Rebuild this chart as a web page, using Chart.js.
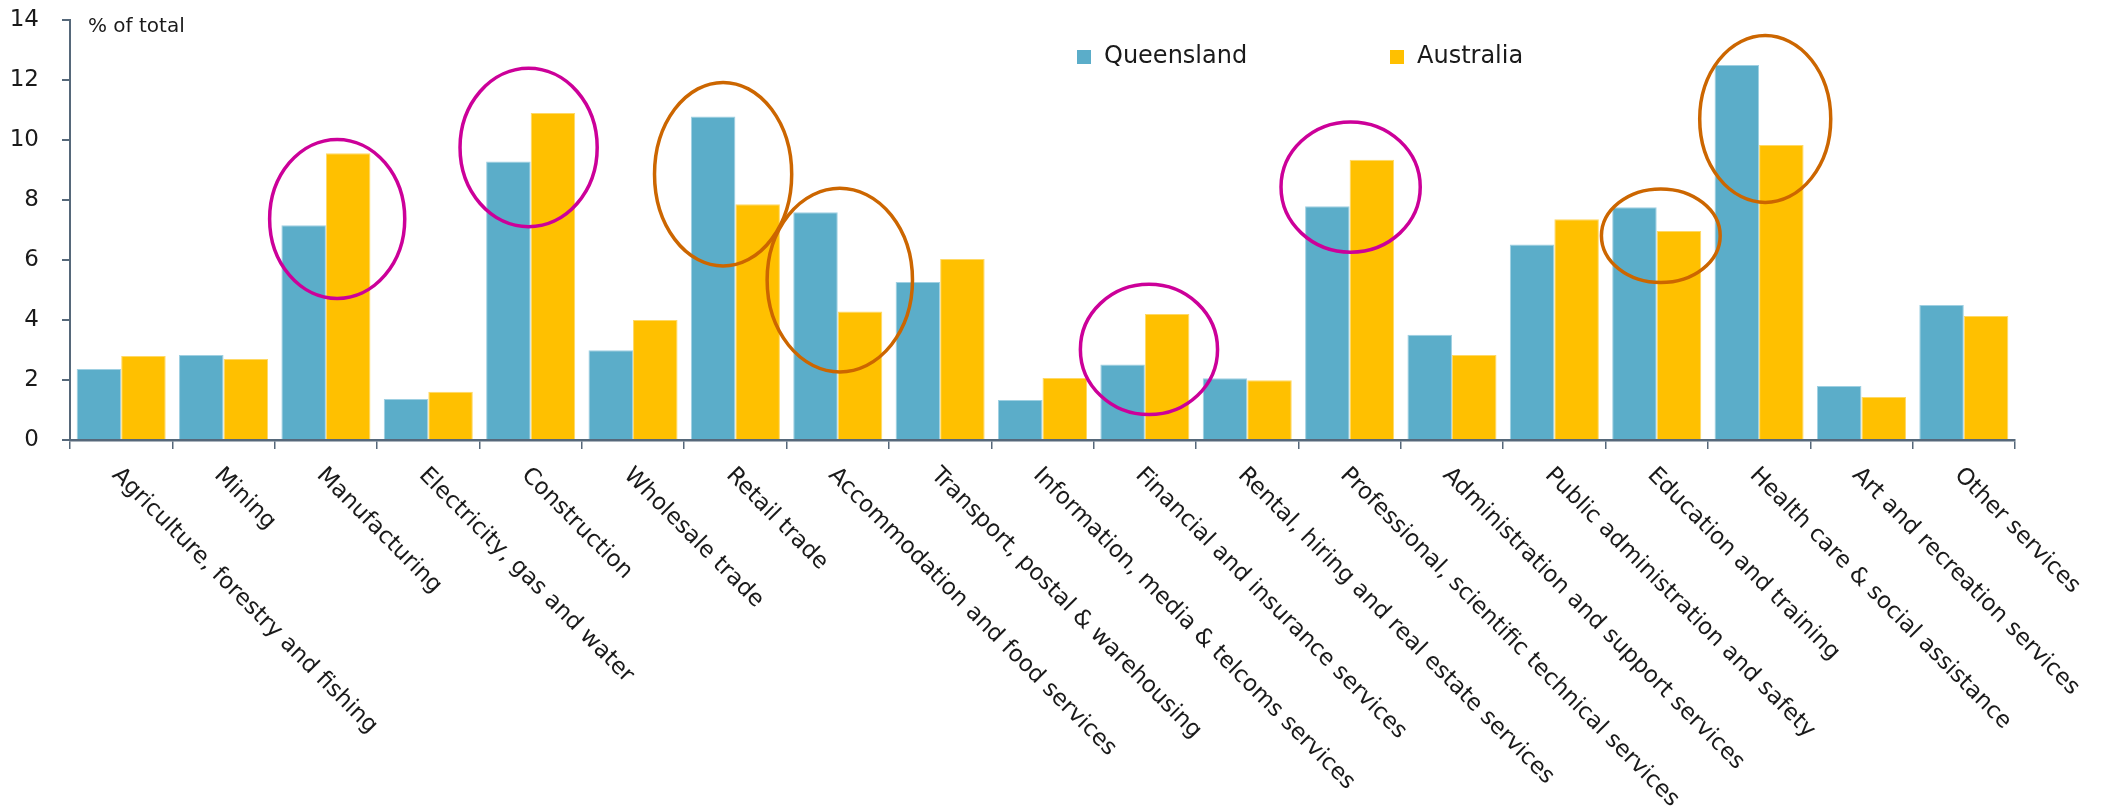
<!DOCTYPE html>
<html>
<head>
<meta charset="utf-8">
<title>Employment by industry</title>
<script src="https://cdn.jsdelivr.net/npm/chart.js@4.4.1/dist/chart.umd.min.js"></script>
<style>
  html, body { margin: 0; padding: 0; background: #fff; }
  #wrap { width: 2111px; height: 810px; position: relative; }
</style>
</head>
<body>
<div id="wrap"><canvas id="graphCanvas"></canvas></div>
<script>
var industries = [
  'Agriculture, forestry and fishing', 'Mining', 'Manufacturing', 'Electricity, gas and water',
  'Construction', 'Wholesale trade', 'Retail trade', 'Accommodation and food services',
  'Transport, postal & warehousing', 'Information, media & telcoms services',
  'Financial and insurance services', 'Rental, hiring and real estate services',
  'Professional, scientific technical services', 'Administration and support services',
  'Public administration and safety', 'Education and training',
  'Health care & social assistance', 'Art and recreation services', 'Other services'
];
var queensland = [2.37, 2.83, 7.16, 1.37, 9.28, 2.99, 10.78, 7.59, 5.27, 1.33, 2.52, 2.06, 7.79, 3.51, 6.52, 7.76, 12.5, 1.8, 4.5];
var australia = [2.8, 2.7, 9.56, 1.61, 10.9, 4.0, 7.86, 4.28, 6.03, 2.07, 4.2, 1.99, 9.34, 2.83, 7.36, 6.97, 9.83, 1.43, 4.13];
var yTicks = [0, 2, 4, 6, 8, 10, 12, 14];

var FONT = "'DejaVu Sans', sans-serif";
var AXIS = '#56687a';
var INK = '#1a1a1a';
var MAGENTA = '#cc0099';
var ORANGE = '#cc6600';

// hand-drawn rings over some industries (dx/rx in category widths, cy/ry in % units)
var rings = [
  { idx: 2,  dx: 0.11,  cy: 7.37, rx: 0.66, ry: 2.65, color: MAGENTA },
  { idx: 4,  dx: -0.02, cy: 9.75, rx: 0.67, ry: 2.64, color: MAGENTA },
  { idx: 6,  dx: -0.12, cy: 8.86, rx: 0.67, ry: 3.06, color: ORANGE },
  { idx: 7,  dx: 0.02,  cy: 5.33, rx: 0.71, ry: 3.06, color: ORANGE },
  { idx: 10, dx: 0.04,  cy: 3.02, rx: 0.67, ry: 2.17, color: MAGENTA },
  { idx: 12, dx: 0.01,  cy: 8.43, rx: 0.68, ry: 2.17, color: MAGENTA },
  { idx: 15, dx: 0.04,  cy: 6.81, rx: 0.58, ry: 1.56, color: ORANGE },
  { idx: 16, dx: 0.06,  cy: 10.7, rx: 0.64, ry: 2.78, color: ORANGE }
];

var extras = {
  id: 'extras',
  afterDatasetsDraw: function(chart) {
    var ctx = chart.ctx;
    var xs = chart.scales.x, ys = chart.scales.y;
    var step = xs.getPixelForValue(1) - xs.getPixelForValue(0);
    ctx.save();
    ctx.lineWidth = 3.5;
    rings.forEach(function(r) {
      var cx = xs.getPixelForValue(r.idx) + r.dx * step;
      var cy = ys.getPixelForValue(r.cy);
      var ry = ys.getPixelForValue(0) - ys.getPixelForValue(r.ry);
      ctx.strokeStyle = r.color;
      ctx.beginPath();
      ctx.ellipse(cx, cy, r.rx * step, ry, 0, 0, Math.PI * 2);
      ctx.stroke();
    });
    ctx.restore();
  },
  afterDraw: function(chart) {
    var ctx = chart.ctx;
    var xs = chart.scales.x, ys = chart.scales.y;
    var area = chart.chartArea;
    ctx.save();
    ctx.fillStyle = INK;

    // y tick numbers, kept clear of the tick marks
    ctx.font = '23px ' + FONT;
    ctx.textAlign = 'right';
    ctx.textBaseline = 'middle';
    yTicks.forEach(function(v) {
      ctx.fillText(String(v), area.left - 31, ys.getPixelForValue(v));
    });

    // slanted industry names under the axis
    ctx.textAlign = 'left';
    ctx.textBaseline = 'alphabetic';
    industries.forEach(function(name, i) {
      var x = xs.getPixelForValue(i) - 10;
      ctx.save();
      ctx.translate(x, area.bottom + 36);
      ctx.rotate(Math.PI / 4);
      ctx.fillText(name, 0, 0);
      ctx.restore();
    });

    // unit label
    ctx.font = '20px ' + FONT;
    ctx.textBaseline = 'middle';
    ctx.fillText('% of total', area.left + 18, area.top + 7);

    // legend
    var items = [{ x: 1077 }, { x: 1390 }];
    ctx.font = '24px ' + FONT;
    chart.data.datasets.forEach(function(ds, i) {
      ctx.fillStyle = ds.backgroundColor;
      ctx.fillRect(items[i].x, 50, 14, 14);
      ctx.fillStyle = INK;
      ctx.fillText(ds.label, items[i].x + 27, 57);
    });
    ctx.restore();
  }
};

var chartdata = {
  labels: industries,
  datasets: [
    {
      label: 'Queensland',
      backgroundColor: '#5badc9',
      borderColor: '#9fd0e2',
      borderWidth: 1,
      data: queensland
    },
    {
      label: 'Australia',
      backgroundColor: '#ffc000',
      borderColor: '#ffd966',
      borderWidth: 1,
      data: australia
    }
  ]
};

var barGraph = new Chart(document.getElementById('graphCanvas'), {
  type: 'bar',
  data: chartdata,
  plugins: [extras],
  options: {
    responsive: true,
    maintainAspectRatio: false,
    animation: false,
    layout: { padding: { top: 20, right: 96, left: 0, bottom: 0 } },
    datasets: { bar: { categoryPercentage: 0.87, barPercentage: 1.0 } },
    plugins: { legend: { display: false }, tooltip: { enabled: false } },
    scales: {
      x: {
        offset: true,
        ticks: { display: false },
        grid: { offset: true, drawOnChartArea: false, drawTicks: true, tickLength: 9, color: AXIS, lineWidth: 1.5 },
        border: { display: true, color: AXIS, width: 2.5 },
        afterFit: function(scale) { scale.height = 370; }
      },
      y: {
        min: 0,
        max: 14,
        afterBuildTicks: function(scale) {
          scale.ticks = yTicks.map(function(v) { return { value: v }; });
        },
        ticks: { display: false },
        grid: { drawOnChartArea: false, drawTicks: true, tickLength: 8, color: AXIS, lineWidth: 2 },
        border: { display: true, color: AXIS, width: 2 },
        afterFit: function(scale) { scale.width = 70; }
      }
    }
  }
});
</script>
</body>
</html>
